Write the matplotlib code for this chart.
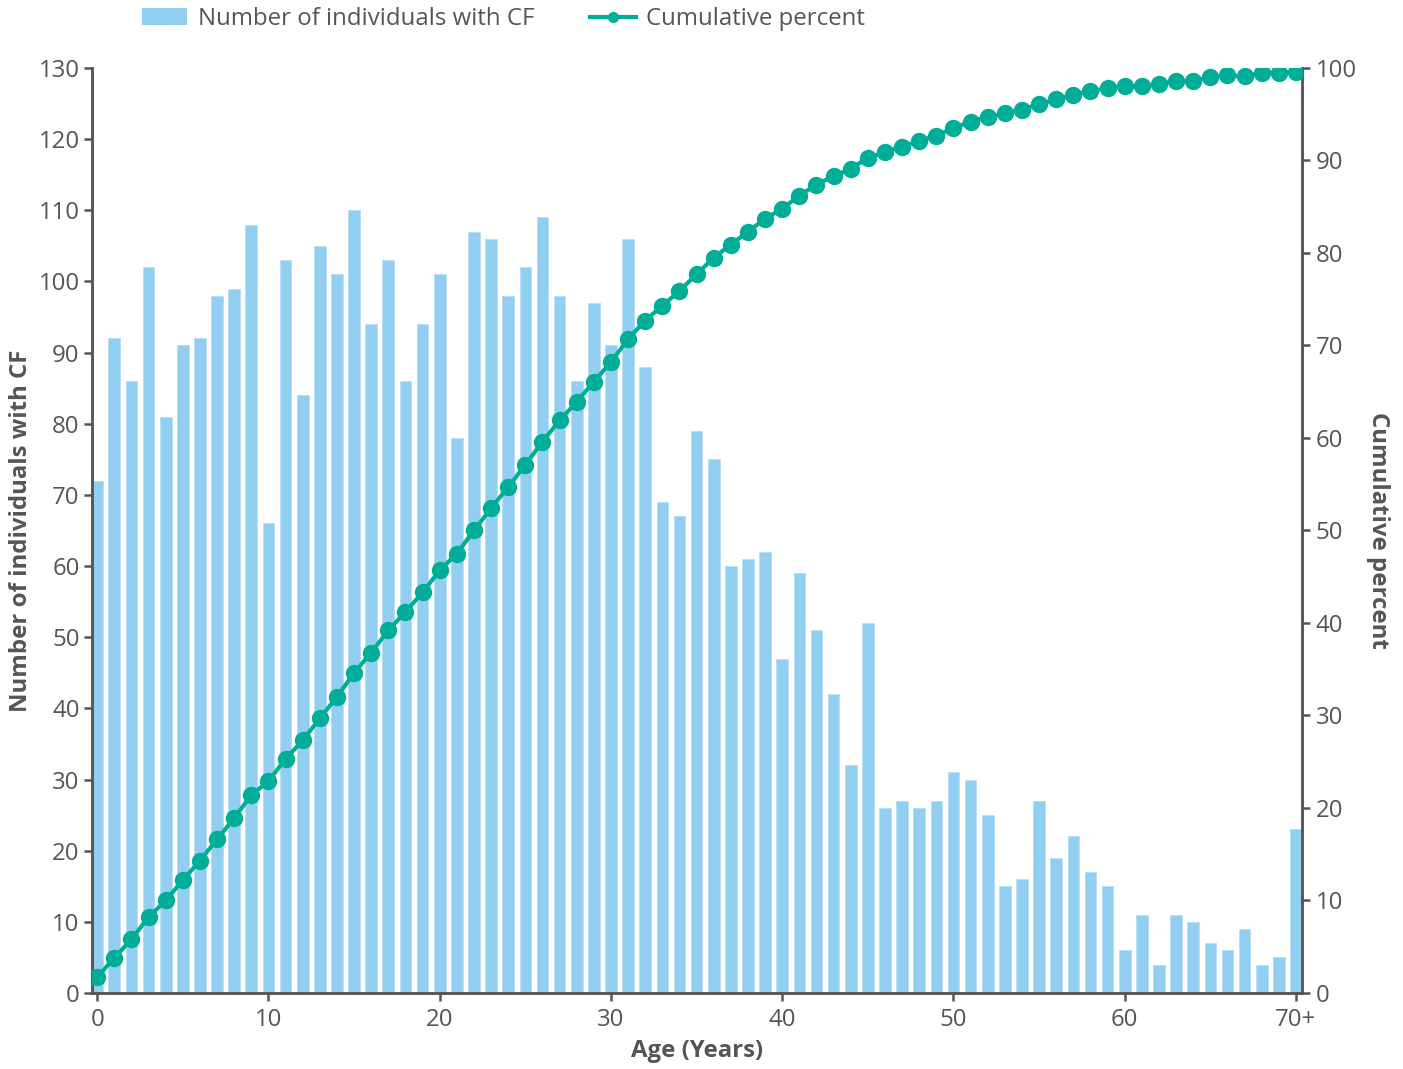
import matplotlib
matplotlib.use("Agg")
import matplotlib.pyplot as plt
from matplotlib.lines import Line2D
from matplotlib.patches import Patch

plt.rcParams["font.family"] = ["Open Sans", "DejaVu Sans"]

# ages 0..69 plus the "70+" group
ages = list(range(71))
tick_ages = [0, 10, 20, 30, 40, 50, 60, 70]
tick_labels = ["0", "10", "20", "30", "40", "50", "60", "70+"]

counts = [
    72, 92, 86, 102, 81, 91, 92, 98, 99, 108,
    66, 103, 84, 105, 101, 110, 94, 103, 86, 94,
    101, 78, 107, 106, 98, 102, 109, 98, 86, 97,
    91, 106, 88, 69, 67, 79, 75, 60, 61, 62,
    47, 59, 51, 42, 32, 52, 26, 27, 26, 27,
    31, 30, 25, 15, 16, 27, 19, 22, 17, 15,
    6, 11, 4, 11, 10, 7, 6, 9, 4, 5,
    23,
]

cum_pct = [
    1.7, 3.8, 5.8, 8.2, 10.0, 12.2, 14.3, 16.6, 18.9, 21.4,
    22.9, 25.3, 27.3, 29.7, 32.0, 34.6, 36.8, 39.2, 41.2, 43.3,
    45.7, 47.5, 50.0, 52.4, 54.7, 57.1, 59.6, 61.9, 63.9, 66.1,
    68.2, 70.7, 72.7, 74.3, 75.9, 77.7, 79.5, 80.9, 82.3, 83.7,
    84.8, 86.2, 87.4, 88.3, 89.1, 90.3, 90.9, 91.5, 92.1, 92.7,
    93.5, 94.2, 94.7, 95.1, 95.5, 96.1, 96.6, 97.1, 97.5, 97.8,
    98.1, 98.0, 98.3, 98.6, 98.6, 99.0, 99.2, 99.1, 99.5, 99.5,
    99.6,
]

BAR_COLOR = "#92CEF0"
LINE_COLOR = "#00AE98"
AXIS_COLOR = "#555555"
FS = 17.3

fig = plt.figure(figsize=(14.03, 10.69), dpi=100)
ax = fig.add_axes([0.0656, 0.0711, 0.8624, 0.8653])
ax2 = ax.twinx()

ax.bar(ages, counts, width=0.68, color=BAR_COLOR, edgecolor="#B5DEF6", linewidth=0.6, zorder=2)
ax2.plot(ages, cum_pct, color=LINE_COLOR, linewidth=3, marker="o", markersize=11.5, zorder=3)

ax.set_xlim(-0.3, 70.35)
ax.set_ylim(0, 130)
ax2.set_ylim(0, 100)
ax.set_yticks(range(0, 131, 10))
ax2.set_yticks(range(0, 101, 10))
ax.set_xticks(tick_ages)
ax.set_xticklabels(tick_labels)

for a in (ax, ax2):
    a.spines["top"].set_visible(False)
    for s in ("left", "right", "bottom"):
        a.spines[s].set_color(AXIS_COLOR)
        a.spines[s].set_linewidth(1.8)
    a.tick_params(colors=AXIS_COLOR, labelcolor=AXIS_COLOR, labelsize=FS,
                  width=1.8, length=6, direction="out")
ax.tick_params(axis="y", pad=3)
ax2.tick_params(axis="y", pad=4)
ax.tick_params(axis="x", pad=5)

ax.set_xlabel("Age (Years)", fontsize=FS, fontweight="bold", color=AXIS_COLOR, labelpad=5)
ax.set_ylabel("Number of individuals with CF", fontsize=FS, fontweight="bold", color=AXIS_COLOR, labelpad=4)
ax2.set_ylabel("Cumulative percent", fontsize=FS, fontweight="bold", color=AXIS_COLOR,
               rotation=270, labelpad=24)

handles = [
    Patch(facecolor=BAR_COLOR, edgecolor="none"),
    Line2D([0], [0], color=LINE_COLOR, linewidth=3, marker="o", markersize=7),
]
ax.legend(handles, ["Number of individuals with CF", "Cumulative percent"],
          loc="center", bbox_to_anchor=(0.34, 1.053), ncol=2, frameon=False,
          fontsize=FS, labelcolor=AXIS_COLOR, handlelength=1.9, columnspacing=2.3,
          handletextpad=0.45)

fig.savefig("out.png", dpi=100)
